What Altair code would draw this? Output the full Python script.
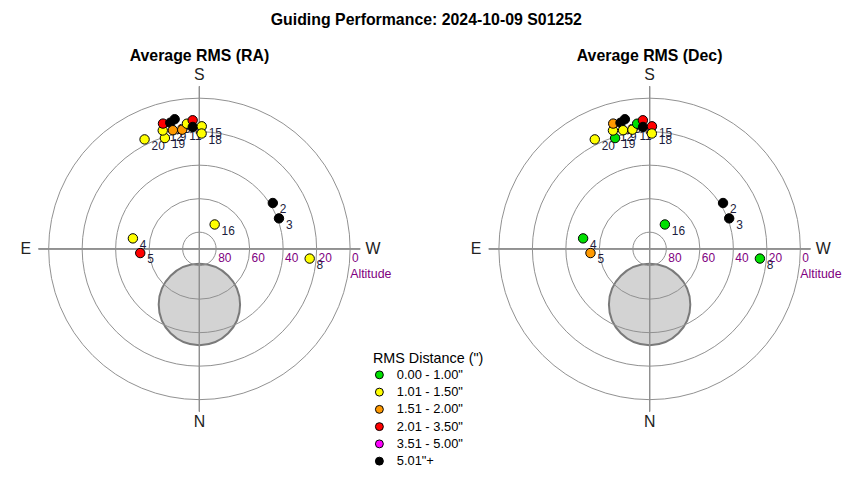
import altair as alt
import pandas as pd

# ---- data ----
labels = [2, 3, 4, 5, 8, 16, 20, 19, 12, 21, 13, 10, 9, 11, 7, 6, 1, 15, 18]
azimuth = [238.0, 249.0, 99.0, 86.0, 275.0, 212.0, 153.4, 162.7, 162.8, 163.8,
           167.0, 169.2, 167.4, 171.8, 174.3, 177.0, 176.9, 181.1, 181.1]
altitude = [38.3, 39.1, 49.8, 54.6, 23.9, 72.8, 16.9, 20.7, 16.0, 12.1,
            12.7, 11.2, 17.4, 18.1, 14.9, 13.1, 17.1, 16.8, 21.1]
ra_class = [5, 5, 1, 3, 1, 1, 1, 1, 1, 3, 5, 5, 2, 2, 1, 3, 5, 1, 1]
dec_class = [5, 5, 0, 2, 0, 0, 1, 0, 1, 2, 5, 5, 1, 1, 0, 3, 5, 3, 1]

rms_classes = ['0.00 - 1.00"', '1.01 - 1.50"', '1.51 - 2.00"',
               '2.01 - 3.50"', '3.51 - 5.00"', '5.01"+']
rms_colors = ['#00e000', '#ffff00', '#ff9900', '#ff0000', '#ff00ff', '#000000']

ring_altitudes = [0, 20, 40, 60, 80]
directions = ['S', 'W', 'N', 'E']
direction_az = [180, 270, 0, 90]

obstruction_az = [0.0]
obstruction_alt = [56.8]
obstruction_diam = [48.6]

panel_titles = ['Average RMS (RA)', 'Average RMS (Dec)']
panel_classes = [ra_class, dec_class]

# ---- layout constants ----
XS = alt.Scale(domain=[-112.5, 112.5])
YS = alt.Scale(domain=[-109.5, 109.5])
SS = alt.Scale(type='pow', exponent=2, domain=[0, 180], range=[0, 304 ** 2])
GRID = '#909090'
PURPLE = '#800080'
LABEL_R = 103.6

PX = '-(90 - datum.alt) * sin(datum.az * PI / 180)'
PY = '-(90 - datum.alt) * cos(datum.az * PI / 180)'


def xy():
    return dict(x=alt.X('px:Q', scale=XS, axis=None),
                y=alt.Y('py:Q', scale=YS, axis=None))


def panel(title, classes):
    pts = pd.DataFrame({
        'label': [str(v) for v in labels],
        'az': azimuth,
        'alt': altitude,
        'rms': [rms_classes[c] for c in classes],
    })
    obs = pd.DataFrame({'az': obstruction_az, 'alt': obstruction_alt,
                        'diam': obstruction_diam})
    rings = pd.DataFrame({'alt': ring_altitudes})
    dirs = pd.DataFrame({'name': directions, 'az': direction_az})

    obstruction = alt.Chart(obs).transform_calculate(px=PX, py=PY).mark_point(
        shape='circle', filled=True, fill='#d3d3d3', stroke='#7a7a7a',
        strokeWidth=2, opacity=1
    ).encode(size=alt.Size('diam:Q', scale=SS, legend=None), **xy())

    ring_marks = alt.Chart(rings).transform_calculate(
        diam='2 * (90 - datum.alt)', px='0', py='0'
    ).mark_point(shape='circle', filled=False, color=GRID, strokeWidth=1,
                 opacity=1).encode(
        size=alt.Size('diam:Q', scale=SS, legend=None), **xy())

    hrule = alt.Chart(rings).mark_rule(color=GRID, strokeWidth=1).encode(
        x=alt.XDatum(-96, scale=XS, axis=None), x2=alt.X2Datum(96),
        y=alt.YDatum(0, scale=YS, axis=None))
    vrule = alt.Chart(rings).mark_rule(color=GRID, strokeWidth=1).encode(
        x=alt.XDatum(0, scale=XS, axis=None),
        y=alt.YDatum(-97, scale=YS, axis=None), y2=alt.Y2Datum(97))

    ring_labels = alt.Chart(rings).transform_calculate(
        px='90 - datum.alt', py='0', txt='toString(datum.alt)'
    ).mark_text(align='left', baseline='middle', dx=2, dy=9, fontSize=12,
                color=PURPLE).encode(text='txt:N', **xy())

    alt_label = alt.Chart(rings).transform_filter('datum.alt == 0').transform_calculate(
        px='90', py='0'
    ).mark_text(align='left', baseline='middle', dx=0, dy=25, fontSize=12.5,
                color=PURPLE, text='Altitude').encode(**xy())

    dir_labels = alt.Chart(dirs).transform_calculate(
        px=f'-{LABEL_R} * sin(datum.az * PI / 180)',
        py=f'-{LABEL_R} * cos(datum.az * PI / 180)'
    ).mark_text(align='center', baseline='middle', fontSize=16,
                color='#222222').encode(text='name:N', **xy())

    pt_labels = alt.Chart(pts).transform_calculate(px=PX, py=PY).mark_text(
        align='left', baseline='middle', dx=7, dy=6.5, fontSize=12,
        color='#1c1c3c'
    ).encode(text='label:N', **xy())

    points = alt.Chart(pts).transform_calculate(px=PX, py=PY).mark_circle(
        size=90, stroke='black', strokeWidth=1, opacity=1
    ).encode(
        color=alt.Color('rms:N', scale=alt.Scale(domain=rms_classes, range=rms_colors),
                        legend=alt.Legend(
                            title='RMS Distance (")', orient='none',
                            legendX=365, legendY=289,
                            titleFontSize=14.5, titleFontWeight='normal',
                            titleColor='black', labelColor='black',
                            labelFontSize=13, symbolSize=64, symbolType='circle',
                            symbolStrokeColor='black', symbolStrokeWidth=1,
                            rowPadding=3.4, labelOffset=11, titlePadding=2)),
        **xy())

    return alt.layer(obstruction, ring_marks, hrule, vrule, ring_labels,
                     alt_label, dir_labels, pt_labels, points).properties(
        width=380, height=370,
        title=alt.TitleParams(title, fontSize=16, fontWeight='bold', offset=1,
                              color='black'))


chart = alt.hconcat(
    *[panel(t, c) for t, c in zip(panel_titles, panel_classes)], spacing=70
).resolve_scale(color='shared').properties(
    title=alt.TitleParams('Guiding Performance: 2024-10-09 S01252', fontSize=16,
                          fontWeight='bold', anchor='middle', offset=21,
                          color='black'),
    padding={'left': 3, 'top': 2, 'right': 0, 'bottom': 0},
).configure(font='Liberation Sans').configure_view(stroke=None)

chart.save('out.html', embed_options={'renderer': 'svg', 'actions': False})
